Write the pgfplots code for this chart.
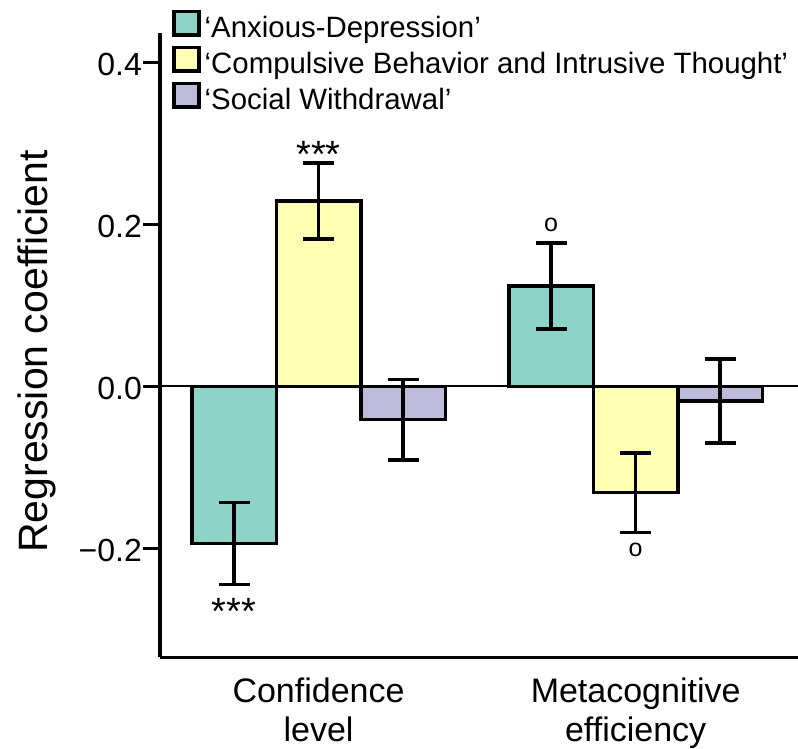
\documentclass[border=0pt]{standalone}
\usepackage{fontspec}
\setmainfont{Liberation Sans}
\usepackage{pgfplots}
\pgfplotsset{compat=1.18}
\definecolor{cteal}{HTML}{8DD3C7}
\definecolor{cyellow}{HTML}{FFFFB3}
\definecolor{cpurple}{HTML}{BEBADA}
\begin{document}
\begin{tikzpicture}
\begin{axis}[
  at={(0,0)}, anchor=south west,
  scale only axis, width=638pt, height=624.3pt,
  xmin=-0.5, xmax=1.512, ymin=-0.3343, ymax=0.4364,
  enlargelimits=false, clip=false,
  axis lines*=left,
  axis line style={line width=3.5pt, black},
  every outer x axis line/.append style={line width=3.5pt},
  every outer y axis line/.append style={line width=3.5pt},
  every inner x axis line/.append style={line width=3.5pt},
  every inner y axis line/.append style={line width=3.5pt},
  ybar=0pt, bar width=84.5pt,
  xtick={0,1},
  xticklabels={Confidence\\level, Metacognitive\\efficiency},
  xticklabel style={align=center, font=\fontsize{34}{39}\selectfont, inner sep=0pt, yshift=-3pt},
  xtick style={draw=none},
  ytick={-0.2,0,0.2,0.4},
  yticklabels={−0.2,0.0,0.2,0.4},
  yticklabel style={font=\fontsize{32}{36}\selectfont, inner sep=0pt, xshift=-1pt, yshift=-2pt},
  ytick style={line width=3.5pt, black},
  tick align=outside, major tick length=17pt,
  ylabel={Regression coefficient},
  ylabel style={font=\fontsize{41}{41}\selectfont, inner sep=0pt,
    at={([xshift=-104pt]axis description cs:0,0.49)}, anchor=south},
  legend style={at={(axis description cs:0,1)}, anchor=north west,
    xshift=12pt, yshift=23.5pt, draw=none, fill=none, inner sep=0pt,
    font=\fontsize{29.4}{33}\selectfont, row sep=2pt,
    nodes={inner sep=0pt, text height=25.5pt, text depth=6pt},
    /tikz/every odd column/.style={column sep=4pt}},
  legend cell align=left,
  legend image code/.code={\draw[#1, line width=3.5pt] (1.5pt,-7pt) rectangle (26.5pt,16.5pt);},
  every axis plot/.append style={
    error bars/y dir=both, error bars/y explicit,
    error bars/error bar style={line width=3.5pt, black},
    error bars/error mark options={rotate=90, line width=3.5pt, mark size=15.5pt, black}},
]
\draw[line width=2pt, black] (axis cs:-0.5,0) -- (axis cs:1.512,0);
\addplot[fill=cteal, draw=black, line width=3.5pt] coordinates {(0,-0.194) +- (0,0.0505) (1,0.124) +- (0,0.053)};
\addlegendentry{‘Anxious-Depression’}
\addplot[fill=cyellow, draw=black, line width=3.5pt] coordinates {(0,0.229) +- (0,0.047) (1,-0.131) +- (0,0.049)};
\addlegendentry{‘Compulsive Behavior and Intrusive Thought’}
\addplot[fill=cpurple, draw=black, line width=3.5pt] coordinates {(0,-0.041) +- (0,0.0498) (1,-0.018) +- (0,0.052)};
\addlegendentry{‘Social Withdrawal’}
\node[font=\fontsize{38}{38}\selectfont, anchor=base, inner sep=0pt] at (axis cs:0,0.270) {***};
\node[font=\fontsize{38}{38}\selectfont, anchor=base, inner sep=0pt] at (axis cs:-0.2664,-0.294) {***};
\node[font=\fontsize{25}{25}\selectfont, anchor=base, inner sep=0pt] at (axis cs:0.7336,0.191) {o};
\node[font=\fontsize{25}{25}\selectfont, anchor=base, inner sep=0pt] at (axis cs:1,-0.210) {o};
\end{axis}
\pgfresetboundingbox
\useasboundingbox (-160pt,-91.7pt) rectangle (638pt,657.3pt);
\end{tikzpicture}
\end{document}
